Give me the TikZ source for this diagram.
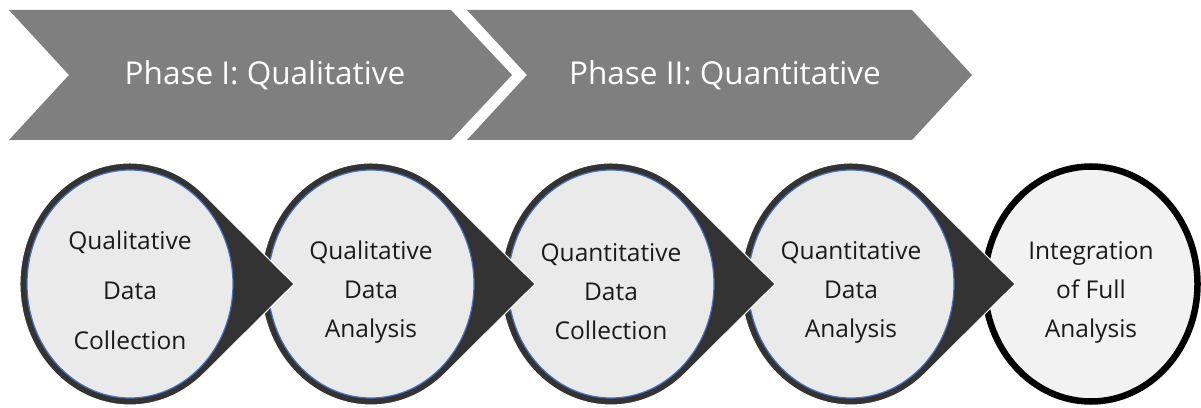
\documentclass[tikz,border=0pt]{standalone}
\usepackage{fontspec}
\setmainfont{Open Sans}
\definecolor{chev}{HTML}{7F7F7F}
\definecolor{ringdark}{HTML}{333333}
\definecolor{disc}{HTML}{EAEAEA}
\definecolor{discedge}{HTML}{4472C4}
\definecolor{lastdisc}{HTML}{F2F2F2}
\definecolor{ink}{HTML}{1A1A1A}
\begin{document}
\begin{tikzpicture}[x=1pt,y=1pt,
  phase/.style={fill=chev, draw=none},
  phaselabel/.style={text=white, anchor=base, inner sep=0pt, font=\fontsize{31.5}{36}\selectfont},
  drop/.style={fill=ringdark, draw=white, line width=1pt},
  inner disc/.style={fill=disc, draw=discedge, line width=1.2pt},
  last disc/.style={fill=lastdisc, draw=black, line width=6.5pt},
  steplabel/.style={text=ink, align=center, inner sep=0pt, font=\fontsize{24.5}{39}\selectfont},
]
\useasboundingbox (0,0) rectangle (1201,407);

% phase chevrons
\path[phase] (9,397) -- (451,397) -- (512,332) -- (451,267) -- (9,267) -- (69,332) -- cycle;
\path[phase] (467,397) -- (912,397) -- (972,332) -- (912,267) -- (467,267) -- (527,332) -- cycle;
\node[phaselabel] (ph1) at (265,322) {Phase I: Qualitative};
\node[phaselabel] (ph2) at (725,322) {Phase II: Quantitative};

% final step: plain ring, drawn first so the arrow tip of step 4 lies on it
\draw[last disc] (1091,123) ellipse [x radius=106.5pt, y radius=117.5pt];

% steps 4 to 1, right to left, each with its arrow tip over the next disc
\foreach \cx in {851,611,371,130}{
  \path[drop] ({\cx+73.7},{123+89.8})
     arc[start angle=47.9, end angle=312.1, x radius=110pt, y radius=121pt]
     -- ({\cx+164},123) -- cycle;
  \path[inner disc] (\cx,123) ellipse [x radius=103pt, y radius=114pt];
}

% step labels
\node[steplabel, font=\fontsize{24.5}{50}\selectfont] (s1) at (130,117) {Qualitative\\Data\\Collection};
\node[steplabel] (s2) at (371,115) {Qualitative\\Data\\Analysis};
\node[steplabel] (s3) at (611,115) {Quantitative\\Data\\Collection};
\node[steplabel] (s4) at (851,115) {Quantitative\\Data\\Analysis};
\node[steplabel] (s5) at (1091,115) {Integration\\of Full\\Analysis};
\end{tikzpicture}
\end{document}
